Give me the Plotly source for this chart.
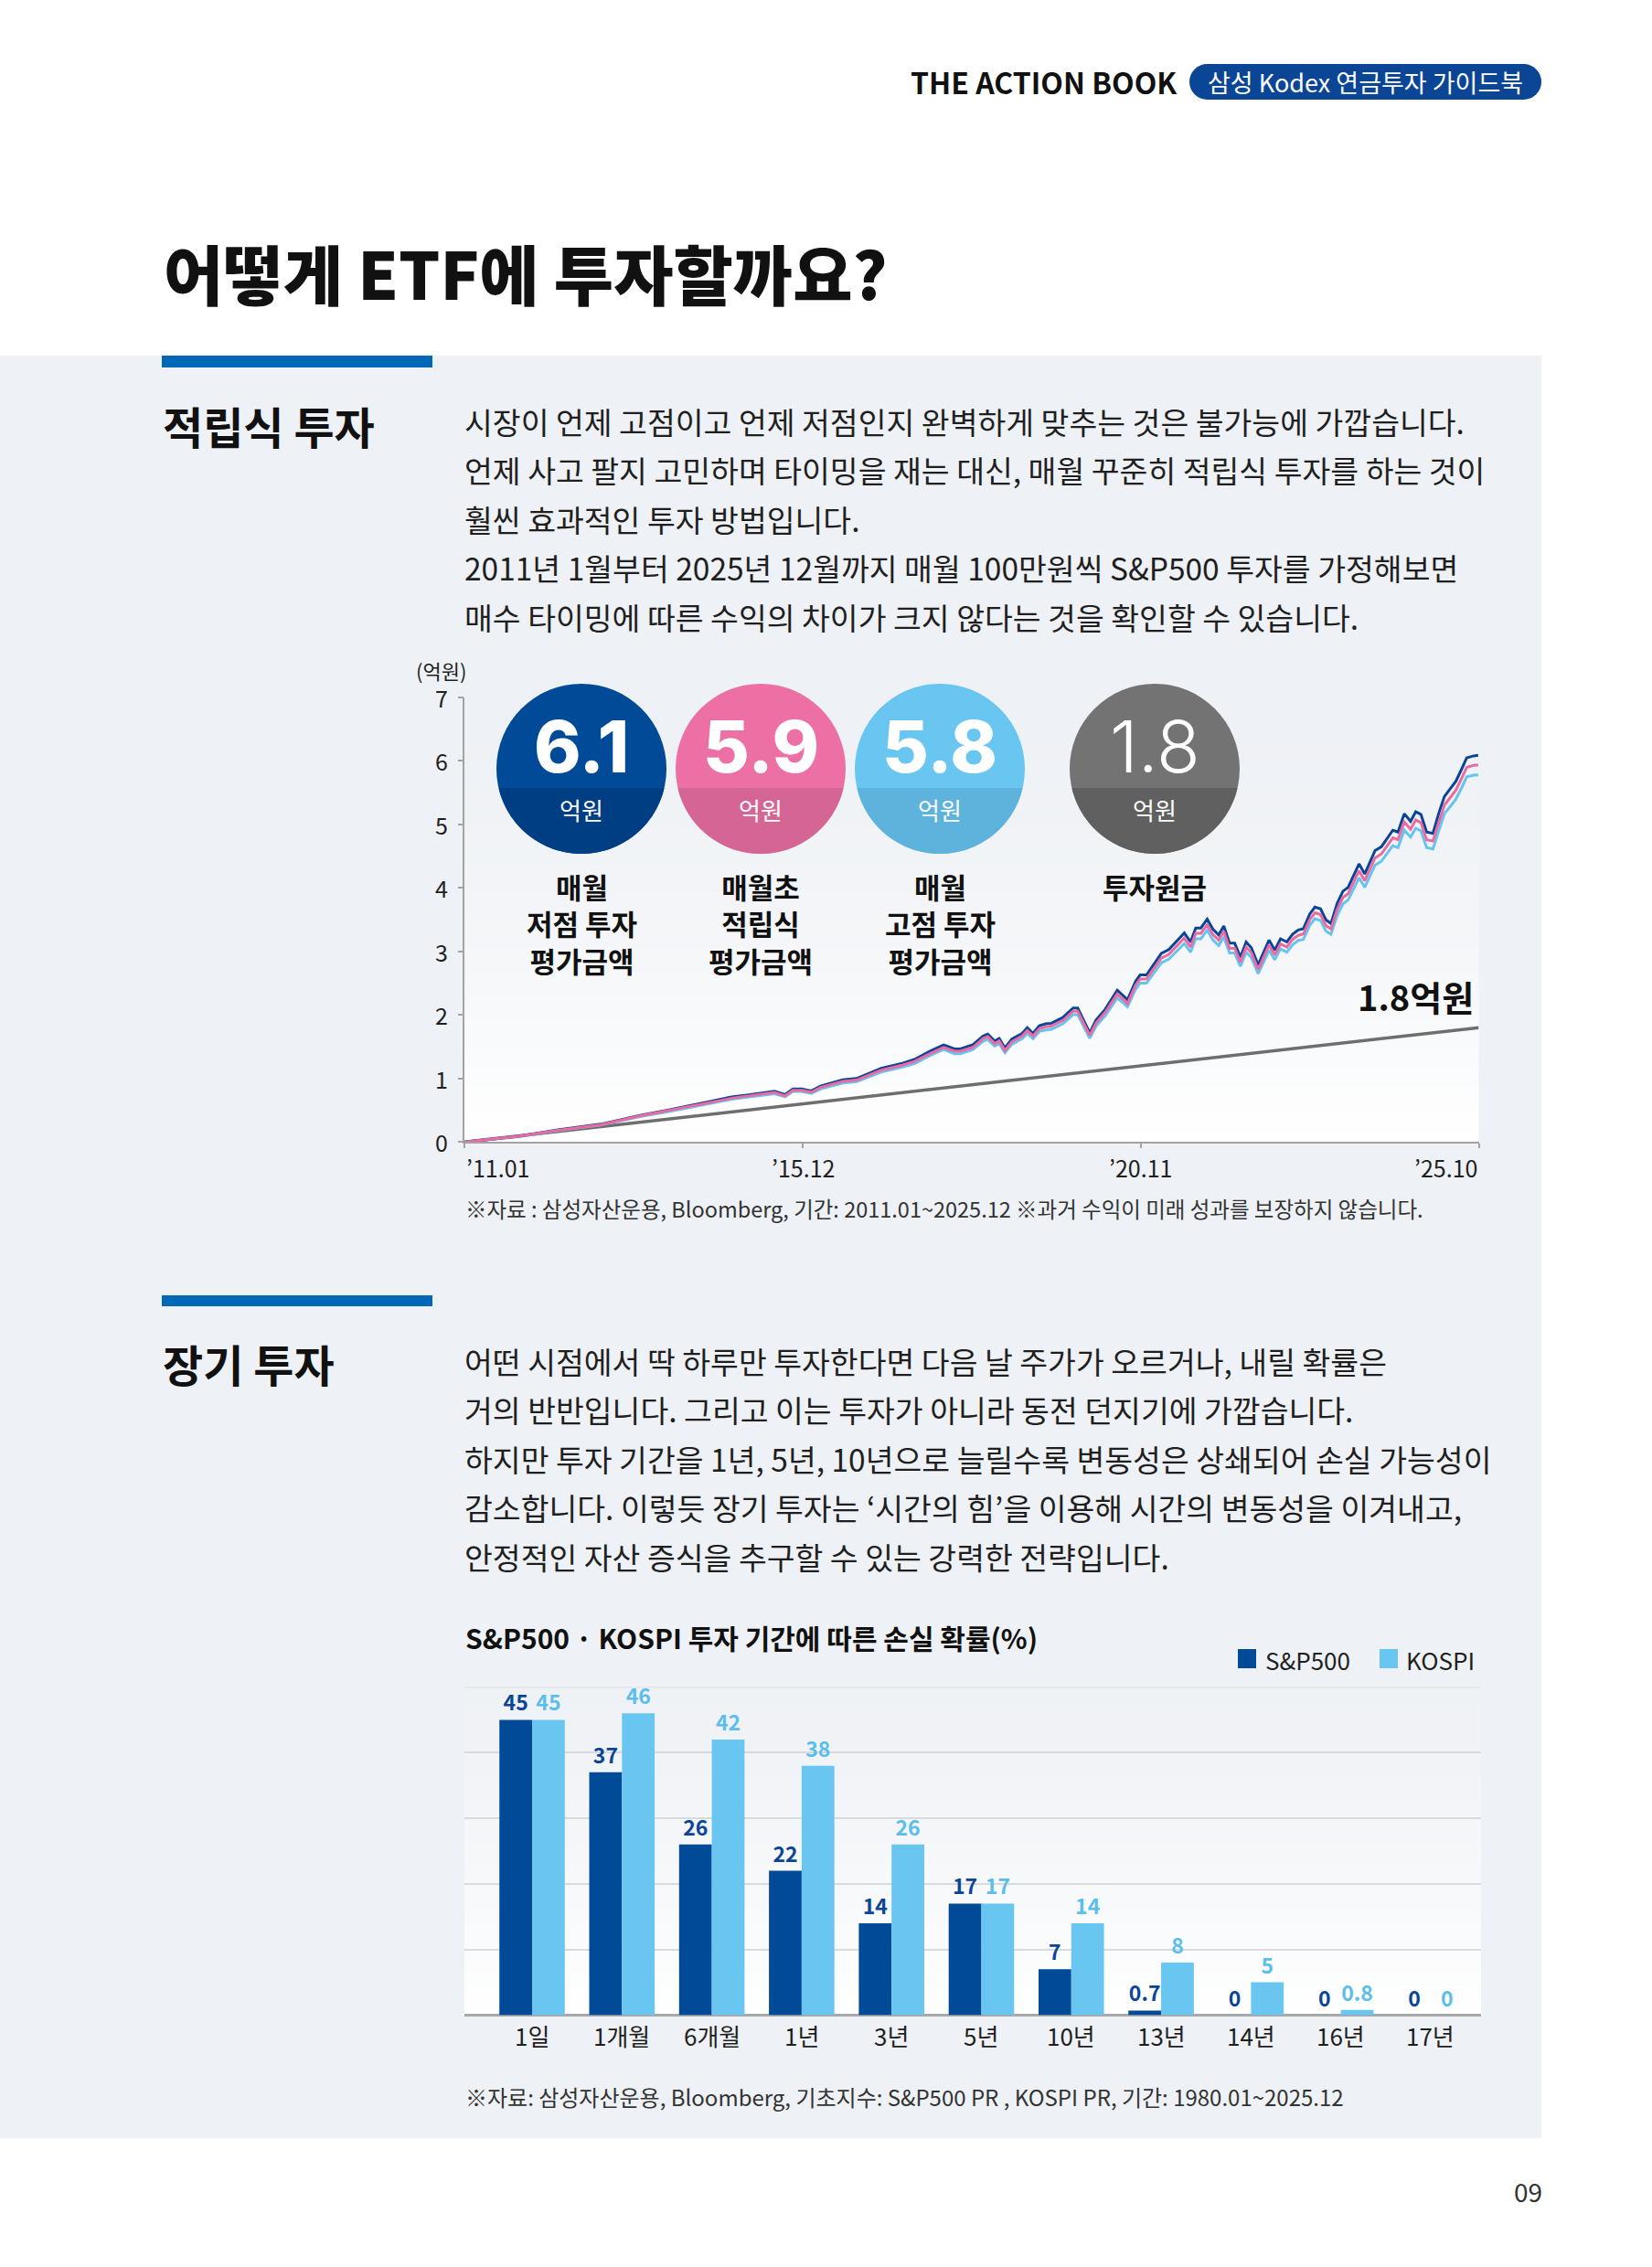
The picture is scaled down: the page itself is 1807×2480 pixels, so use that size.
import numpy as np
import plotly.graph_objects as go

W, H = 1807, 2480
FONT = "Noto Sans CJK KR"
NUMFONT = "Inter"
TXT = "#1f1f1f"
PANEL = (238, 241, 245)

# ---------------- line chart data (억원) ----------------
months = [0, 9.4, 16.3, 23.7, 30.6, 35.4, 41.3, 46.6, 49.3, 54.1,
          55.9, 57.3, 58.8, 60.5, 62.1, 64.7, 66.0, 68.4, 72.7, 76.4,
          78.5, 81.4, 83.6, 85.5, 86.5, 88.7, 90.5, 91.3, 92.5, 93.3,
          94.3, 95.5, 97.3, 98.2, 99.2, 100.3, 101.4, 102.4, 104.4, 106.2,
          107.0, 109.1, 110.2, 111.8, 113.9, 115.7, 117.1, 117.9, 119.0, 121.6,
          122.9, 125.6, 126.7, 127.6, 128.5, 129.6, 130.6, 131.6, 132.5, 133.5,
          134.4, 135.4, 136.4, 137.3, 138.5, 140.4, 141.4, 142.4, 143.5, 144.5,
          145.5, 146.4, 147.5, 148.4, 149.4, 150.3, 151.2, 152.3, 153.3, 154.2,
          155.2, 156.1, 157.1, 158.1, 158.9, 160.0, 161.1, 162.0, 162.9, 164.0,
          165.1, 166.0, 166.9, 167.9, 169.0, 170.0, 171.0, 171.9, 173.0, 174.0,
          174.9, 176.1, 176.9]

low_point_buy = [0.00, 0.09, 0.19, 0.28, 0.42, 0.50, 0.61, 0.71, 0.74, 0.80,
                 0.745, 0.835, 0.835, 0.805, 0.88, 0.95, 0.98, 1.00, 1.16, 1.24,
                 1.30, 1.44, 1.53, 1.465, 1.465, 1.53, 1.67, 1.70, 1.59, 1.63,
                 1.48, 1.62, 1.71, 1.80, 1.71, 1.83, 1.86, 1.87, 1.96, 2.11,
                 2.11, 1.72, 1.92, 2.09, 2.39, 2.24, 2.53, 2.63, 2.63, 2.97,
                 3.03, 3.29, 3.15, 3.37, 3.37, 3.51, 3.35, 3.26, 3.40, 3.13,
                 3.13, 2.91, 3.15, 3.06, 2.79, 3.18, 3.02, 3.20, 3.15, 3.27,
                 3.34, 3.36, 3.59, 3.70, 3.67, 3.50, 3.44, 3.76, 3.95, 4.01,
                 4.21, 4.38, 4.22, 4.43, 4.59, 4.65, 4.79, 4.91, 4.88, 5.17,
                 5.05, 5.20, 5.16, 4.88, 4.86, 5.17, 5.44, 5.55, 5.68, 5.87,
                 6.05, 6.08, 6.09]

month_start_buy = [0.00, 0.09, 0.185, 0.27, 0.41, 0.49, 0.595, 0.69, 0.72, 0.78,
                   0.725, 0.815, 0.815, 0.785, 0.86, 0.925, 0.955, 0.975, 1.13, 1.21,
                   1.27, 1.40, 1.49, 1.43, 1.43, 1.49, 1.63, 1.66, 1.55, 1.59,
                   1.44, 1.58, 1.67, 1.755, 1.67, 1.785, 1.815, 1.825, 1.91, 2.06,
                   2.06, 1.68, 1.87, 2.04, 2.33, 2.18, 2.47, 2.565, 2.565, 2.895,
                   2.955, 3.21, 3.07, 3.285, 3.285, 3.42, 3.265, 3.18, 3.315, 3.05,
                   3.05, 2.835, 3.07, 2.98, 2.715, 3.10, 2.945, 3.12, 3.07, 3.19,
                   3.255, 3.275, 3.50, 3.61, 3.58, 3.41, 3.355, 3.665, 3.85, 3.91,
                   4.105, 4.27, 4.115, 4.32, 4.475, 4.535, 4.67, 4.79, 4.76, 5.04,
                   4.925, 5.07, 5.03, 4.76, 4.74, 5.04, 5.305, 5.41, 5.54, 5.725,
                   5.90, 5.93, 5.94]

high_point_buy = [0.00, 0.085, 0.18, 0.265, 0.40, 0.475, 0.58, 0.675, 0.705, 0.76,
                  0.71, 0.795, 0.795, 0.765, 0.835, 0.90, 0.93, 0.95, 1.10, 1.18,
                  1.235, 1.37, 1.455, 1.39, 1.39, 1.455, 1.585, 1.615, 1.51, 1.55,
                  1.405, 1.54, 1.625, 1.71, 1.625, 1.74, 1.765, 1.775, 1.86, 2.005,
                  2.005, 1.635, 1.825, 1.985, 2.27, 2.13, 2.405, 2.50, 2.50, 2.82,
                  2.88, 3.125, 2.99, 3.20, 3.20, 3.335, 3.18, 3.095, 3.23, 2.975,
                  2.975, 2.765, 2.99, 2.905, 2.65, 3.02, 2.87, 3.04, 2.99, 3.105,
                  3.175, 3.19, 3.41, 3.515, 3.485, 3.325, 3.27, 3.57, 3.75, 3.81,
                  4.00, 4.16, 4.01, 4.21, 4.36, 4.42, 4.55, 4.665, 4.635, 4.91,
                  4.80, 4.94, 4.90, 4.635, 4.615, 4.91, 5.17, 5.27, 5.395, 5.575,
                  5.75, 5.775, 5.78]

principal_months = [0, 177]
principal_values = [0.0, 1.8]

line_x_ticks = [0, 59, 118, 177]
line_x_labels = ["’11.01", "’15.12", "’20.11", "’25.10"]
line_y_ticks = [0, 1, 2, 3, 4, 5, 6, 7]

circle_values = ["6.1", "5.9", "5.8", "1.8"]
circle_units = ["억원", "억원", "억원", "억원"]
circle_captions = [["매월", "저점 투자", "평가금액"],
                   ["매월초", "적립식", "평가금액"],
                   ["매월", "고점 투자", "평가금액"],
                   ["투자원금"]]
principal_label = "1.8억원"

# ---------------- bar chart data (%) ----------------
periods = ["1일", "1개월", "6개월", "1년", "3년", "5년", "10년", "13년", "14년", "16년", "17년"]
sp500_loss = [45, 37, 26, 22, 14, 17, 7, 0.7, 0, 0, 0]
kospi_loss = [45, 46, 42, 38, 26, 17, 14, 8, 5, 0.8, 0]

# ---------------- colours ----------------
C_DARK = "#0a4597"
C_PINK = "#ea6aa1"
C_LIGHT = "#66c4ef"
C_GRAY = "#6e6e6e"
BAR_DARK = "#004a98"
BAR_LIGHT = "#68c6f0"
circle_top = ["#004a98", "#ec70a3", "#69c6f0", "#737373"]
circle_bot = ["#003e84", "#d56594", "#5db3dc", "#606060"]


def X(p):
    return p / W


def Y(p):
    return 1 - p / H


def mix(t):
    r = [round(c + (255 - c) * t) for c in PANEL]
    return "rgb(%d,%d,%d)" % tuple(r)


shapes = []


def rect(x0, y0, x1, y1, color, layer="below"):
    shapes.append(dict(type="rect", xref="paper", yref="paper",
                       x0=X(x0), x1=X(x1), y0=Y(y1), y1=Y(y0),
                       fillcolor=color, line=dict(width=0), layer=layer))


def circle(cx, cy, r, color, layer="above"):
    shapes.append(dict(type="circle", xref="paper", yref="paper",
                       x0=X(cx - r), x1=X(cx + r), y0=Y(cy + r), y1=Y(cy - r),
                       fillcolor=color, line=dict(width=0), layer=layer))


# panel
rect(0, 389, 1686, 2339, "rgb(%d,%d,%d)" % PANEL)
# accent bars
rect(177, 389, 473, 402, "#0068b7")
rect(177, 1417, 473, 1429, "#0068b7")

# gradient backgrounds (line chart plot area)
LX0, LX1, LY0, LY1 = 508.3, 1617.5, 763.0, 1249.3
n = 48
for i in range(n):
    a = LY0 + (LY1 - LY0) * i / n
    b = LY0 + (LY1 - LY0) * (i + 1) / n
    t = ((i + 0.5) / n) ** 1.6
    rect(LX0, a - 0.6, LX1, b + 0.6, mix(t))

# bar chart plot area gradient
BX0, BX1, BY0, BY1 = 508.0, 1620.0, 1845.5, 2204.5
GY0 = 1815.0
for i in range(n):
    a = GY0 + (BY1 - GY0) * i / n
    b = GY0 + (BY1 - GY0) * (i + 1) / n
    t = ((i + 0.5) / n) ** 1.4
    rect(BX0, a - 0.6, BX1, b + 0.6, mix(t))

# top grid line of the bar chart (value 50)
shapes.append(dict(type="line", xref="x2 domain", yref="y2", x0=0, x1=1, y0=50, y1=50,
                   line=dict(color="#d7dbe0", width=1.5), layer="below"))

# header pill
PX0, PX1, PY0, PY1 = 1301, 1686, 70, 109
pr = (PY1 - PY0) / 2
rect(PX0 + pr, PY0, PX1 - pr, PY1, "#0a4596", layer="above")
circle(PX0 + pr, PY0 + pr, pr, "#0a4596")
circle(PX1 - pr, PY0 + pr, pr, "#0a4596")

# circles with darker lower band
centers = [636, 832, 1028, 1263]
CY, R, BAND = 841, 93, 862
for cx, ct, cb in zip(centers, circle_top, circle_bot):
    circle(cx, CY, R, ct)
    t0 = np.arcsin((BAND - CY) / R)
    ts = np.linspace(t0, np.pi - t0, 60)
    pts = [(X(cx + R * np.cos(t)), Y(CY + R * np.sin(t))) for t in ts]
    path = "M " + " L ".join("%.6f,%.6f" % p for p in pts) + " Z"
    shapes.append(dict(type="path", xref="paper", yref="paper", path=path,
                       fillcolor=cb, line=dict(width=0), layer="above"))

annotations = []


def A(text, x, y, size, color=TXT, weight=400, xanchor="left", yanchor="middle",
      xref="paper", yref="paper", family=FONT):
    annotations.append(dict(
        text=text, x=X(x) if xref == "paper" else x, y=Y(y) if yref == "paper" else y,
        xref=xref, yref=yref, xanchor=xanchor, yanchor=yanchor, showarrow=False,
        font=dict(family=family, size=size, color=color, weight=weight)))


# header
A("THE ACTION BOOK", 1290, 89, 32, "#111111", 700, xanchor="right")
A("삼성 Kodex 연금투자 가이드북", (PX0 + PX1) / 2, 89, 27, "white", 400, xanchor="center")
# title
A("어떻게 ETF에 투자할까요?", 177, 297, 71, "#111111", 900)

# section 1
A("적립식 투자", 176, 465, 48, "#111111", 700)
para1 = ["시장이 언제 고점이고 언제 저점인지 완벽하게 맞추는 것은 불가능에 가깝습니다.",
         "언제 사고 팔지 고민하며 타이밍을 재는 대신, 매월 꾸준히 적립식 투자를 하는 것이",
         "훨씬 효과적인 투자 방법입니다.",
         "2011년 1월부터 2025년 12월까지 매월 100만원씩 S&P500 투자를 가정해보면",
         "매수 타이밍에 따른 수익의 차이가 크지 않다는 것을 확인할 수 있습니다."]
for i, line in enumerate(para1):
    A(line, 506, 460 + 53.6 * i, 33.5)

# line chart labels
A("(억원)", 482, 733, 22, xanchor="center")
for v in line_y_ticks:
    A(str(v), 492, v, 25, xanchor="right", yref="y")
anchors = ["left", "center", "center", "right"]
for v, lab, an in zip(line_x_ticks, line_x_labels, anchors):
    annotations.append(dict(text=lab, x=v, y=Y(1277), xref="x", yref="paper",
                            xanchor=an, yanchor="middle", showarrow=False,
                            font=dict(family=FONT, size=25, color=TXT)))
A("※자료 : 삼성자산운용, Bloomberg, 기간: 2011.01~2025.12 ※과거 수익이 미래 성과를 보장하지 않습니다.",
  507, 1322, 23.5, "#333333")

for cx, val, unit, cap, i in zip(centers, circle_values, circle_units, circle_captions, range(4)):
    A(val, cx, 817, 78, "white", 300 if i == 3 else 800, xanchor="center", family=NUMFONT)
    A(unit, cx, 885, 26, "white", 400, xanchor="center")
    mid = 969 + 41 * (len(cap) - 1) / 2
    A("<br>".join(cap), cx, mid, 31, "#111111", 700, xanchor="center")
A(principal_label, 1614, 1089, 38, "#111111", 700, xanchor="right")

# section 2
A("장기 투자", 176, 1491, 48, "#111111", 700)
para2 = ["어떤 시점에서 딱 하루만 투자한다면 다음 날 주가가 오르거나, 내릴 확률은",
         "거의 반반입니다. 그리고 이는 투자가 아니라 동전 던지기에 가깝습니다.",
         "하지만 투자 기간을 1년, 5년, 10년으로 늘릴수록 변동성은 상쇄되어 손실 가능성이",
         "감소합니다. 이렇듯 장기 투자는 ‘시간의 힘’을 이용해 시간의 변동성을 이겨내고,",
         "안정적인 자산 증식을 추구할 수 있는 강력한 전략입니다."]
for i, line in enumerate(para2):
    A(line, 506, 1488 + 53.6 * i, 33.5)

A("S&P500 · KOSPI 투자 기간에 따른 손실 확률(%)", 507, 1791, 30, "#111111", 700)
# legend
rect(1354, 1804, 1374, 1825, BAR_DARK, layer="above")
rect(1509, 1804, 1529, 1825, BAR_LIGHT, layer="above")
A("S&P500", 1382, 1815, 26, TXT)
A("KOSPI", 1536, 1815, 26, TXT)
for p in periods:
    annotations.append(dict(text=p, x=p, y=Y(2226), xref="x2", yref="paper",
                            xanchor="center", yanchor="middle", showarrow=False,
                            font=dict(family=FONT, size=26, color=TXT)))
A("※자료: 삼성자산운용, Bloomberg, 기초지수: S&P500 PR , KOSPI PR, 기간: 1980.01~2025.12",
  507, 2293, 24, "#333333")
A("09", 1671, 2397, 28, "#333333", 400, xanchor="center")

# ---------------- traces ----------------
fig = go.Figure()
fig.add_trace(go.Scatter(x=principal_months, y=principal_values, mode="lines",
                         line=dict(color=C_GRAY, width=3.5), hoverinfo="skip",
                         xaxis="x", yaxis="y"))
fig.add_trace(go.Scatter(x=months, y=high_point_buy, mode="lines",
                         line=dict(color=C_LIGHT, width=3), hoverinfo="skip",
                         xaxis="x", yaxis="y"))
fig.add_trace(go.Scatter(x=months, y=low_point_buy, mode="lines",
                         line=dict(color=C_DARK, width=3), hoverinfo="skip",
                         xaxis="x", yaxis="y"))
fig.add_trace(go.Scatter(x=months, y=month_start_buy, mode="lines",
                         line=dict(color=C_PINK, width=3), hoverinfo="skip",
                         xaxis="x", yaxis="y"))

fmt = lambda v: ("%g" % v)
fig.add_trace(go.Bar(x=periods, y=sp500_loss, marker=dict(color=BAR_DARK, line=dict(width=0)),
                     text=[fmt(v) for v in sp500_loss], textposition="outside",
                     textfont=dict(family=FONT, size=23, color="#0a4597", weight=700),
                     cliponaxis=False, constraintext="none", xaxis="x2", yaxis="y2",
                     hoverinfo="skip"))
fig.add_trace(go.Bar(x=periods, y=kospi_loss, marker=dict(color=BAR_LIGHT, line=dict(width=0)),
                     text=[fmt(v) for v in kospi_loss], textposition="outside",
                     textfont=dict(family=FONT, size=23, color="#5bbfeb", weight=700),
                     cliponaxis=False, constraintext="none", xaxis="x2", yaxis="y2",
                     hoverinfo="skip"))

AX = "#a3a3a3"
fig.update_layout(
    width=W, height=H, margin=dict(l=0, r=0, t=0, b=0),
    paper_bgcolor="white", plot_bgcolor="rgba(0,0,0,0)",
    showlegend=False, barmode="group", bargap=0.272, bargroupgap=0,
    font=dict(family=FONT, color=TXT),
    xaxis=dict(domain=[X(LX0), X(LX1)], range=[0, 177], anchor="y",
               showline=True, linecolor=AX, linewidth=1.5, ticks="outside",
               tickvals=line_x_ticks, ticklen=5, tickcolor=AX, tickwidth=1.5,
               showticklabels=False, showgrid=False, zeroline=False, fixedrange=True),
    yaxis=dict(domain=[Y(LY1), Y(LY0)], range=[0, 7], anchor="x",
               showline=True, linecolor=AX, linewidth=1.5, ticks="outside",
               tickvals=line_y_ticks, ticklen=6, tickcolor=AX, tickwidth=1.5,
               showticklabels=False, showgrid=False, zeroline=False, fixedrange=True),
    xaxis2=dict(domain=[X(BX0), X(BX1)], range=[-0.753, 10.56], anchor="y2",
                type="category", showline=False, ticks="", showticklabels=False,
                showgrid=False, zeroline=False, fixedrange=True),
    yaxis2=dict(domain=[Y(BY1), Y(BY0)], range=[0, 50], anchor="x2", dtick=10,
                showline=False, ticks="", showticklabels=False, showgrid=True,
                gridcolor="#d7dbe0", gridwidth=1.5, zeroline=True,
                zerolinecolor="#a9a9a9", zerolinewidth=2.5, fixedrange=True),
    shapes=shapes, annotations=annotations,
)

fig.write_html("out.html", config={"displayModeBar": False},
               post_script="document.body.style.margin='0';document.body.style.overflow='hidden';")
